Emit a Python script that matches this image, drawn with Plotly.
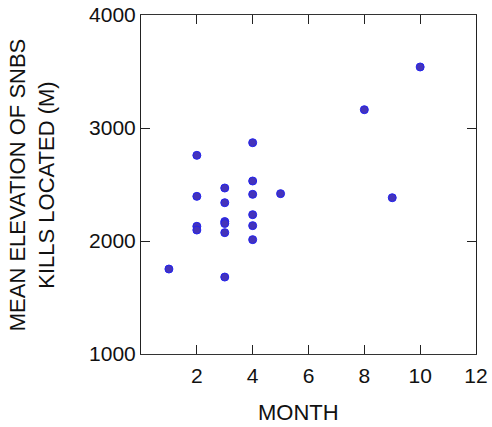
import plotly.graph_objects as go

month = [1, 2, 2, 2, 2, 3, 3, 3, 3, 3, 3, 4, 4, 4, 4, 4, 4, 5, 8, 9, 10]
elevation = [1752, 2758, 2395, 2130, 2097, 2469, 2339, 2172, 2155, 2074, 1681,
             2870, 2531, 2413, 2233, 2136, 2012, 2419, 3162, 2383, 3540]

x_ticks = [2, 4, 6, 8, 10, 12]
y_ticks = [1000, 2000, 3000, 4000]

fig = go.Figure(go.Scatter(
    x=month, y=elevation, mode="markers",
    marker=dict(size=8, color="#4433bb", line=dict(color="#2222ee", width=1)),
))

ff = "Liberation Sans, Arial, sans-serif"
fig.update_layout(
    width=492, height=427,
    margin=dict(l=141, r=16, t=15, b=73),
    plot_bgcolor="white", paper_bgcolor="white",
    showlegend=False,
    font=dict(family=ff, size=21, color="#111111"),
)
fig.update_xaxes(
    range=[0, 12], tickvals=x_ticks, ticktext=[str(t) for t in x_ticks],
    ticks="inside", ticklen=9, tickcolor="#222222", mirror="ticks",
    showline=True, linecolor="#333333", linewidth=1, showgrid=False, zeroline=False,
    automargin=False, ticklabelstandoff=3, ticklabeloverflow="allow",
)
fig.update_yaxes(
    range=[1000, 4000], tickvals=y_ticks, ticktext=[str(t) for t in y_ticks],
    ticks="inside", ticklen=9, tickcolor="#222222", mirror="ticks",
    showline=True, linecolor="#222222", linewidth=1, showgrid=False, zeroline=False,
    automargin=False, ticklabeloverflow="allow",
)
fig.add_annotation(
    text="MEAN ELEVATION OF SNBS<br>KILLS LOCATED (M)", textangle=-90,
    xref="paper", yref="paper", x=-0.326, y=0.5, xanchor="center", yanchor="middle",
    showarrow=False, font=dict(family=ff, size=22, color="#111111"),
)
fig.add_annotation(
    text="MONTH", xref="paper", yref="paper", x=0.4716, y=-0.174,
    xanchor="center", yanchor="middle", showarrow=False,
    font=dict(family=ff, size=22, color="#111111"),
)
fig.write_html("out.html", config={"displayModeBar": False},
               post_script="document.body.style.margin='0';")
